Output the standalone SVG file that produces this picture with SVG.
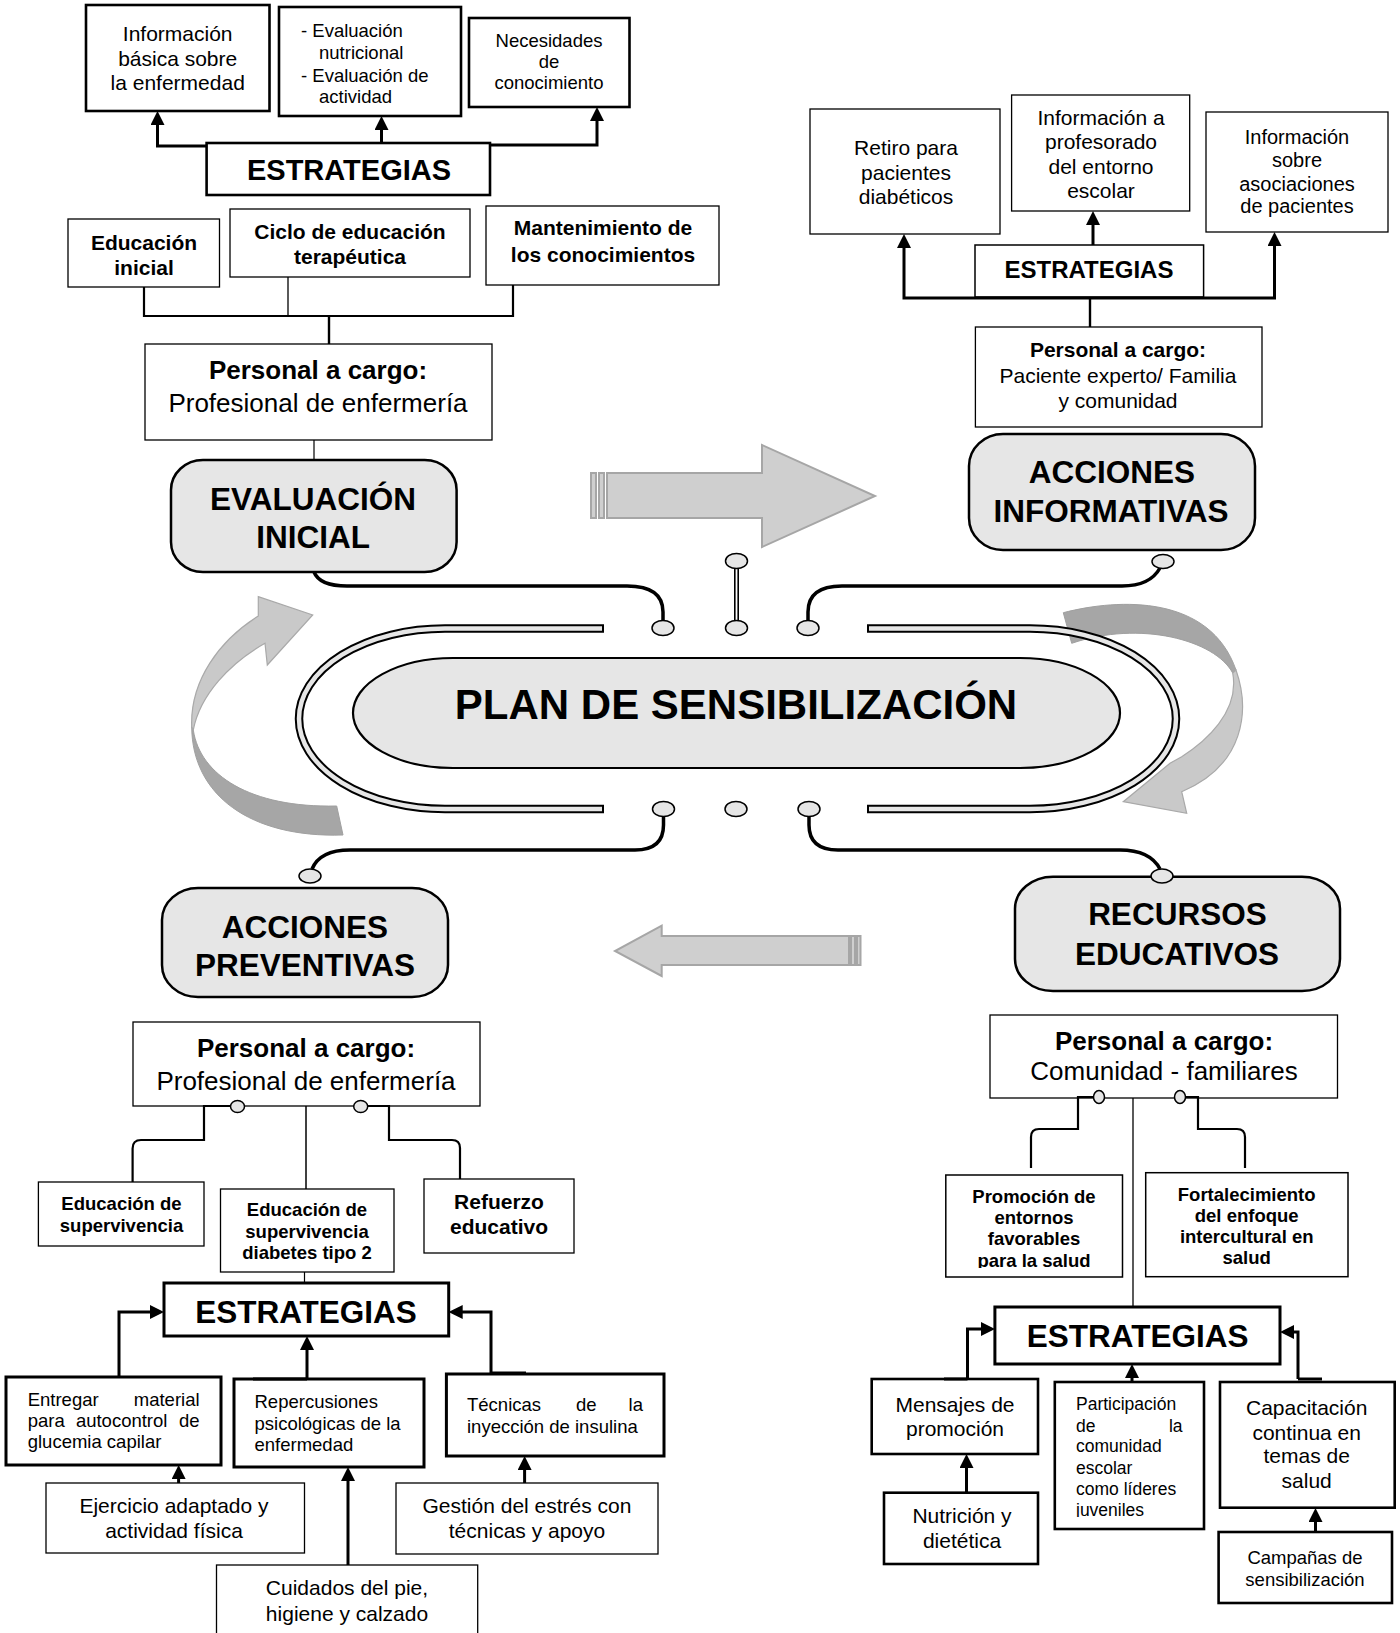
<svg xmlns="http://www.w3.org/2000/svg" width="1400" height="1633" viewBox="0 0 1400 1633">
<style>
.bx{fill:#fff;stroke:#000}
.k{stroke-width:2.6}
.n{stroke-width:1.3}
.rb{fill:#e6e6e6;stroke:#000;stroke-width:2.5}
text{font-family:"Liberation Sans",Arial,Helvetica,sans-serif;fill:#000}
.c{text-anchor:middle}
.e{text-anchor:end}
.b{font-weight:bold}
.ln{fill:none;stroke:#000}
.ar{fill:none;stroke:#000;stroke-width:3;marker-end:url(#ah)}
.cir{fill:#e6e6e6;stroke:#000;stroke-width:1.5}
.blk{fill:#cfcfcf;stroke:#a6a6a6;stroke-width:2}
.cl{fill:#c9c9c9;stroke:#a9a9a9;stroke-width:1.2}
.cd{fill:#a6a6a6;stroke:#a0a0a0;stroke-width:1}
.f17{font-size:17.5px}.f18{font-size:18.5px}.f20{font-size:20px}.f21{font-size:21px}.f24{font-size:24px}.f26{font-size:26px}.f29{font-size:29px}.f32{font-size:31.5px}
</style>
<defs>
<marker id="ah" viewBox="0 0 14 14" refX="1" refY="7" markerWidth="14" markerHeight="14" markerUnits="userSpaceOnUse" orient="auto"><path d="M0,0 L14,7 L0,14 Z" fill="#000"/></marker>
<clipPath id="clipProm"><rect x="946" y="1176" width="176" height="92"/></clipPath>
<clipPath id="clipPart"><rect x="1056" y="1383" width="147" height="134"/></clipPath>
</defs>

<!-- decorative arrows -->
<g id="flow-arrows">
<rect class="blk" x="591" y="473" width="5" height="45"/>
<rect class="blk" x="599" y="473" width="5" height="45"/>
<polygon class="blk" points="607,473 762,473 762,445 875,496 762,547 762,518 607,518"/>
<rect class="blk" x="851" y="936" width="4" height="29"/>
<rect class="blk" x="857" y="936" width="3.5" height="29"/>
<polygon class="blk" points="849,936 661.7,936 661.7,925.7 615,951 661.7,976 661.7,965 849,965"/>
<path class="cd" d="M193.3,730 C200,775 250,808 336.7,806 L343,835 C250,838 192,795 191.7,726.7 Z"/>
<path class="cl" d="M191.7,726.7 C190,680 220,640 258.3,616 L258.3,596.7 L312.7,615 L267.3,665 L265,643.3 C230,663 200,695 193.3,730 Z"/>
<path class="cd" d="M1063.3,612.7 C1120,598 1210,595 1236,670 L1232.7,673 C1215,640 1140,620 1071.7,643.3 Z"/>
<path class="cl" d="M1236,670 C1250,710 1245,765 1181.7,791.7 L1186.7,813.3 L1123.3,801.7 L1170,763.3 L1181.7,756.7 C1205,742 1240,712 1232.7,673 Z"/>
</g>

<!-- central plan -->
<g id="plan">
<path class="ln" stroke-width="8.5" d="M604,628.5 H445 A146,90.25 0 0 0 299,718.75 A146,90.25 0 0 0 445,809 H604"/>
<path fill="none" stroke="#e6e6e6" stroke-width="4.5" d="M602,628.5 H445 A146,90.25 0 0 0 299,718.75 A146,90.25 0 0 0 445,809 H602"/>
<path class="ln" stroke-width="8.5" d="M867,628.5 H1030 A146,90.25 0 0 1 1176,718.75 A146,90.25 0 0 1 1030,809 H867"/>
<path fill="none" stroke="#e6e6e6" stroke-width="4.5" d="M869,628.5 H1030 A146,90.25 0 0 1 1176,718.75 A146,90.25 0 0 1 1030,809 H869"/>
<rect x="353" y="658" width="767" height="110" rx="100" ry="55" fill="#e6e6e6" stroke="#000" stroke-width="2.2"/>
<text class="c b" x="736" y="719" font-size="42">PLAN DE SENSIBILIZACIÓN</text>
</g>

<!-- top-left nodes -->
<g id="info-basica"><rect class="bx k" x="86" y="5" width="183.5" height="106"/>
<text class="c f21" x="177.7" y="41">Información</text><text class="c f21" x="177.7" y="65.5">básica sobre</text><text class="c f21" x="177.7" y="90">la enfermedad</text></g>
<g id="evaluaciones"><rect class="bx k" x="279" y="7" width="182" height="109"/>
<text class="f18" x="301" y="37">- Evaluación</text><text class="f18" x="319" y="59">nutricional</text><text class="f18" x="301" y="82">- Evaluación de</text><text class="f18" x="319" y="103">actividad</text></g>
<g id="necesidades"><rect class="bx k" x="469" y="18" width="160.5" height="89"/>
<text class="c f18" x="549" y="46.7">Necesidades</text><text class="c f18" x="549" y="68.3">de</text><text class="c f18" x="549" y="89.3">conocimiento</text></g>
<g id="estrategias-1"><rect class="bx k" x="206.6" y="143" width="283.4" height="52"/>
<text class="c b f29" x="349" y="180">ESTRATEGIAS</text></g>
<g id="educacion-inicial"><rect class="bx n" x="68" y="219" width="151.5" height="68"/>
<text class="c b f21" x="144" y="250">Educación</text><text class="c b f21" x="144" y="275">inicial</text></g>
<g id="ciclo"><rect class="bx n" x="230" y="209" width="240" height="68"/>
<text class="c b f21" x="350" y="239.3">Ciclo de educación</text><text class="c b f21" x="350" y="264">terapéutica</text></g>
<g id="mantenimiento"><rect class="bx n" x="486" y="206" width="233" height="79"/>
<text class="c b f21" x="603" y="235">Mantenimiento de</text><text class="c b f21" x="603" y="261.7">los conocimientos</text></g>
<g id="personal-1"><rect class="bx n" x="145" y="344" width="347" height="96"/>
<text class="c b f26" x="318" y="379">Personal a cargo:</text><text class="c f26" x="318" y="411.7">Profesional de enfermería</text></g>
<g id="evaluacion-inicial"><rect class="rb" x="171" y="460" width="285.6" height="112" rx="32" ry="30"/>
<text class="c b f32" x="313" y="510">EVALUACIÓN</text><text class="c b f32" x="313" y="548">INICIAL</text></g>

<!-- top-right nodes -->
<g id="retiro"><rect class="bx n" x="810" y="109" width="190" height="125"/>
<text class="c f21" x="906" y="155">Retiro para</text><text class="c f21" x="906" y="179.5">pacientes</text><text class="c f21" x="906" y="203.5">diabéticos</text></g>
<g id="profesorado"><rect class="bx n" x="1011.6" y="95" width="178.1" height="116"/>
<text class="c f21" x="1101" y="125">Información a</text><text class="c f21" x="1101" y="149.3">profesorado</text><text class="c f21" x="1101" y="174">del entorno</text><text class="c f21" x="1101" y="198.3">escolar</text></g>
<g id="asociaciones"><rect class="bx n" x="1206" y="112" width="182" height="120"/>
<text class="c f20" x="1297" y="144">Información</text><text class="c f20" x="1297" y="167.3">sobre</text><text class="c f20" x="1297" y="190.7">asociaciones</text><text class="c f20" x="1297" y="213.3">de pacientes</text></g>
<g id="estrategias-2"><rect class="bx" stroke-width="1.5" x="975" y="245" width="228.6" height="52"/>
<text class="c b f24" x="1089" y="278.3">ESTRATEGIAS</text></g>
<g id="personal-2"><rect class="bx n" x="975.4" y="327" width="286.6" height="100"/>
<text class="c b f21" x="1118" y="357.3">Personal a cargo:</text><text class="c f21" x="1118" y="383.3">Paciente experto/ Familia</text><text class="c f21" x="1118" y="408.3">y comunidad</text></g>
<g id="acciones-informativas"><rect class="rb" x="969" y="434" width="286" height="116" rx="34" ry="32"/>
<text class="c b f32" x="1112" y="483.3">ACCIONES</text><text class="c b f32" x="1111" y="521.7">INFORMATIVAS</text></g>

<!-- bottom-left nodes -->
<g id="acciones-preventivas"><rect class="rb" x="162" y="888" width="286" height="109" rx="36" ry="32"/>
<text class="c b f32" x="305" y="937.7">ACCIONES</text><text class="c b f32" x="305" y="976">PREVENTIVAS</text></g>
<g id="personal-3"><rect class="bx n" x="133" y="1022" width="347" height="84"/>
<text class="c b f26" x="306" y="1056.7">Personal a cargo:</text><text class="c f26" x="306" y="1090">Profesional de enfermería</text></g>
<g id="edu-supervivencia"><rect class="bx n" x="38.4" y="1182" width="165.6" height="64"/>
<text class="c b f18" x="121.5" y="1210">Educación de</text><text class="c b f18" x="121.5" y="1231.7">supervivencia</text></g>
<g id="edu-diabetes"><rect class="bx n" x="220.5" y="1189" width="173.5" height="83"/>
<text class="c b f18" x="307" y="1216">Educación de</text><text class="c b f18" x="307" y="1238.3">supervivencia</text><text class="c b f18" x="307" y="1259.3">diabetes tipo 2</text></g>
<g id="refuerzo"><rect class="bx n" x="424" y="1179" width="150" height="74"/>
<text class="c b f21" x="499" y="1209.3">Refuerzo</text><text class="c b f21" x="499" y="1234">educativo</text></g>
<g id="estrategias-3"><rect class="bx" stroke-width="3" x="164" y="1283" width="284.7" height="53"/>
<text class="c b f32" x="306" y="1323.3">ESTRATEGIAS</text></g>
<g id="entregar"><rect class="bx" stroke-width="3" x="6" y="1377" width="215" height="88"/>
<text class="f18" x="27.7" y="1406">Entregar</text><text class="e f18" x="199.6" y="1406">material</text>
<text class="f18" x="27.7" y="1426.7">para</text><text class="f18" x="75.9" y="1426.7">autocontrol</text><text class="e f18" x="199.6" y="1426.7">de</text>
<text class="f18" x="27.7" y="1448.3">glucemia capilar</text></g>
<g id="repercusiones"><rect class="bx" stroke-width="3" x="234" y="1379" width="190" height="88"/>
<text class="f18" x="254.5" y="1408.3">Repercusiones</text><text class="f18" x="254.5" y="1430">psicológicas de la</text><text class="f18" x="254.5" y="1450.7">enfermedad</text></g>
<g id="tecnicas"><rect class="bx" stroke-width="3" x="446.4" y="1374" width="217.6" height="82"/>
<text class="f18" x="467" y="1410.7">Técnicas</text><text class="f18" x="576" y="1410.7">de</text><text class="e f18" x="643" y="1410.7">la</text>
<text class="f18" x="467" y="1432.7">inyección de insulina</text></g>
<g id="ejercicio"><rect class="bx n" x="46" y="1483" width="258.5" height="70"/>
<text class="c f21" x="174" y="1513.3">Ejercicio adaptado y</text><text class="c f21" x="174" y="1538.3">actividad física</text></g>
<g id="gestion"><rect class="bx n" x="396" y="1483" width="262" height="71"/>
<text class="c f21" x="527" y="1512.7">Gestión del estrés con</text><text class="c f21" x="527" y="1538.3">técnicas y apoyo</text></g>
<g id="cuidados"><rect class="bx n" x="216.5" y="1565" width="261.2" height="80"/>
<text class="c f21" x="347" y="1595">Cuidados del pie,</text><text class="c f21" x="347" y="1620.7">higiene y calzado</text></g>

<!-- bottom-right nodes -->
<g id="recursos-educativos"><rect class="rb" x="1015" y="876.7" width="325" height="114.3" rx="38" ry="32"/>
<text class="c b f32" x="1177.4" y="925">RECURSOS</text><text class="c b f32" x="1177" y="965">EDUCATIVOS</text></g>
<g id="personal-4"><rect class="bx n" x="990" y="1015" width="347.5" height="83"/>
<text class="c b f26" x="1164" y="1050">Personal a cargo:</text><text class="c f26" x="1164" y="1080">Comunidad - familiares</text></g>
<g id="promocion"><rect class="bx" stroke-width="1.5" x="945.8" y="1175" width="176.7" height="102"/>
<g clip-path="url(#clipProm)"><text class="c b f18" x="1034" y="1202.7">Promoción de</text><text class="c b f18" x="1034" y="1224.3">entornos</text><text class="c b f18" x="1034" y="1245">favorables</text><text class="c b f18" x="1034" y="1266.7">para la salud</text></g></g>
<g id="fortalecimiento"><rect class="bx" stroke-width="1.5" x="1145.7" y="1172.7" width="202.3" height="104"/>
<text class="c b f18" x="1246.7" y="1200.7">Fortalecimiento</text><text class="c b f18" x="1246.7" y="1222.3">del enfoque</text><text class="c b f18" x="1246.7" y="1243.3">intercultural en</text><text class="c b f18" x="1246.7" y="1264">salud</text></g>
<g id="estrategias-4"><rect class="bx" stroke-width="3" x="994.9" y="1307" width="285.1" height="57"/>
<text class="c b f32" x="1137.6" y="1346.7">ESTRATEGIAS</text></g>
<g id="mensajes"><rect class="bx" stroke-width="2.6" x="871.7" y="1379" width="166.3" height="75"/>
<text class="c f21" x="955" y="1411.7">Mensajes de</text><text class="c f21" x="955" y="1436">promoción</text></g>
<g id="nutricion"><rect class="bx" stroke-width="2.6" x="884" y="1492.7" width="154" height="71.3"/>
<text class="c f21" x="962" y="1523.3">Nutrición y</text><text class="c f21" x="962" y="1548.3">dietética</text></g>
<g id="participacion"><rect class="bx" stroke-width="2.6" x="1054.8" y="1382" width="149.2" height="147"/>
<g clip-path="url(#clipPart)"><text class="f17" x="1076" y="1410">Participación</text><text class="f17" x="1076" y="1431.7">de</text><text class="e f17" x="1182.5" y="1431.7">la</text><text class="f17" x="1076" y="1452.3">comunidad</text><text class="f17" x="1076" y="1474">escolar</text><text class="f17" x="1076" y="1495">como líderes</text><text class="f17" x="1076" y="1515.7">juveniles</text></g></g>
<g id="capacitacion"><rect class="bx" stroke-width="2.6" x="1220" y="1382" width="174.7" height="125.7"/>
<text class="c f21" x="1306.7" y="1415">Capacitación</text><text class="c f21" x="1306.7" y="1440">continua en</text><text class="c f21" x="1306.7" y="1463.3">temas de</text><text class="c f21" x="1306.7" y="1488.3">salud</text></g>
<g id="campanas"><rect class="bx" stroke-width="2.6" x="1218.6" y="1532" width="173.4" height="71"/>
<text class="c f18" x="1305" y="1564">Campañas de</text><text class="c f18" x="1305" y="1585.7">sensibilización</text></g>

<!-- connectors -->
<g id="connectors">
<!-- top-left -->
<path class="ar" d="M206.6,146 H157.5 V124"/>
<path class="ar" d="M381.5,143 V129"/>
<path class="ar" d="M490,145 H597 V120"/>
<path class="ln" stroke-width="2.2" d="M144,287 V316 H513 V285"/>
<path class="ln" stroke-width="1.3" d="M288,277 V316"/>
<path class="ln" stroke-width="2.4" d="M329,316 V344"/>
<path class="ln" stroke-width="1.2" d="M314,440 V460"/>
<!-- top-right -->
<path class="ar" d="M1093,298 H904 V247"/>
<path class="ar" d="M1093,298 H1274.5 V245"/>
<path class="ar" d="M1093,245 V224"/>
<path class="ln" stroke-width="2.4" d="M1090,298 V327"/>
<!-- central -->
<path class="ln" stroke-width="3.5" d="M314,572 C318,582 330,586 347,586 H627 Q663,586 663,612 V621"/>
<path class="ln" stroke-width="5" d="M736.5,568 V621"/>
<path fill="none" stroke="#fff" stroke-width="1.8" d="M736.5,568 V621"/>
<path class="ln" stroke-width="3.5" d="M808,621 V612 Q808,586 842,586 H1122 Q1150,586 1160,568"/>
<path class="ln" stroke-width="3.5" d="M663.5,816 V825 Q663.5,850 635,850 H350 Q320,850 312,869"/>
<path class="ln" stroke-width="3.5" d="M809,816 V825 Q809,850 838,850 H1120 Q1150,850 1160,869"/>
<ellipse class="cir" cx="663" cy="628" rx="11" ry="7.5"/>
<ellipse class="cir" cx="736.5" cy="628" rx="11" ry="7.5"/>
<ellipse class="cir" cx="808" cy="628" rx="11" ry="7.5"/>
<ellipse class="cir" cx="736.5" cy="561" rx="11" ry="7.5"/>
<ellipse class="cir" cx="1163" cy="561.5" rx="11" ry="7"/>
<ellipse class="cir" cx="663.5" cy="809" rx="11" ry="7.5"/>
<ellipse class="cir" cx="736" cy="809" rx="11" ry="7.5"/>
<ellipse class="cir" cx="809" cy="809" rx="11" ry="7.5"/>
<ellipse class="cir" cx="310" cy="876" rx="11" ry="7"/>
<ellipse class="cir" cx="1162" cy="876" rx="11" ry="7"/>
<!-- bottom-left -->
<path class="ln" stroke-width="2.2" d="M230.5,1106 H204 V1140 H141 Q132.6,1140 132.6,1148.4 V1182"/>
<path class="ln" stroke-width="1.5" d="M306,1106 V1189"/>
<path class="ln" stroke-width="2.2" d="M367.7,1106 H389 V1140 H452 Q460,1140 460,1148 V1179"/>
<ellipse class="cir" cx="237.5" cy="1106.5" rx="7" ry="6"/>
<ellipse class="cir" cx="360.7" cy="1106.5" rx="7" ry="6"/>
<path class="ln" stroke-width="1.2" d="M304.5,1272 V1283"/>
<path class="ar" d="M119,1377 V1312 H151"/>
<path class="ar" d="M307,1379 V1349"/>
<path class="ar" d="M491,1373 V1312 H461.7"/>
<path class="ln" stroke-width="3" d="M491,1373 H526"/>
<path class="ln" stroke-width="3" d="M253,1379 H307"/>
<path class="ar" d="M178.6,1483 V1478"/>
<path class="ar" d="M348,1565 V1480"/>
<path class="ar" d="M524.6,1483 V1469"/>
<!-- bottom-right -->
<path class="ln" stroke-width="2.2" d="M1093.5,1097 H1078 V1129 H1039 Q1031,1129 1031,1137 V1168"/>
<path class="ln" stroke-width="2.2" d="M1185.5,1097 H1198 V1129 H1237 Q1245,1129 1245,1137 V1168"/>
<ellipse class="cir" cx="1099" cy="1097" rx="5.5" ry="6.5"/>
<ellipse class="cir" cx="1180" cy="1097" rx="5.5" ry="6.5"/>
<path class="ln" stroke-width="1.3" d="M1133,1098 V1307"/>
<path class="ar" d="M967.5,1379 V1329 H982"/>
<path class="ln" stroke-width="3" d="M944,1379 H967.5"/>
<path class="ar" d="M1298,1379 V1332 H1293"/>
<path class="ln" stroke-width="3" d="M1298,1379 H1322"/>
<path class="ar" d="M1132,1382 V1377"/>
<path class="ar" d="M966.5,1492.7 V1467"/>
<path class="ar" d="M1315.5,1532 V1521"/>
</g>
</svg>
